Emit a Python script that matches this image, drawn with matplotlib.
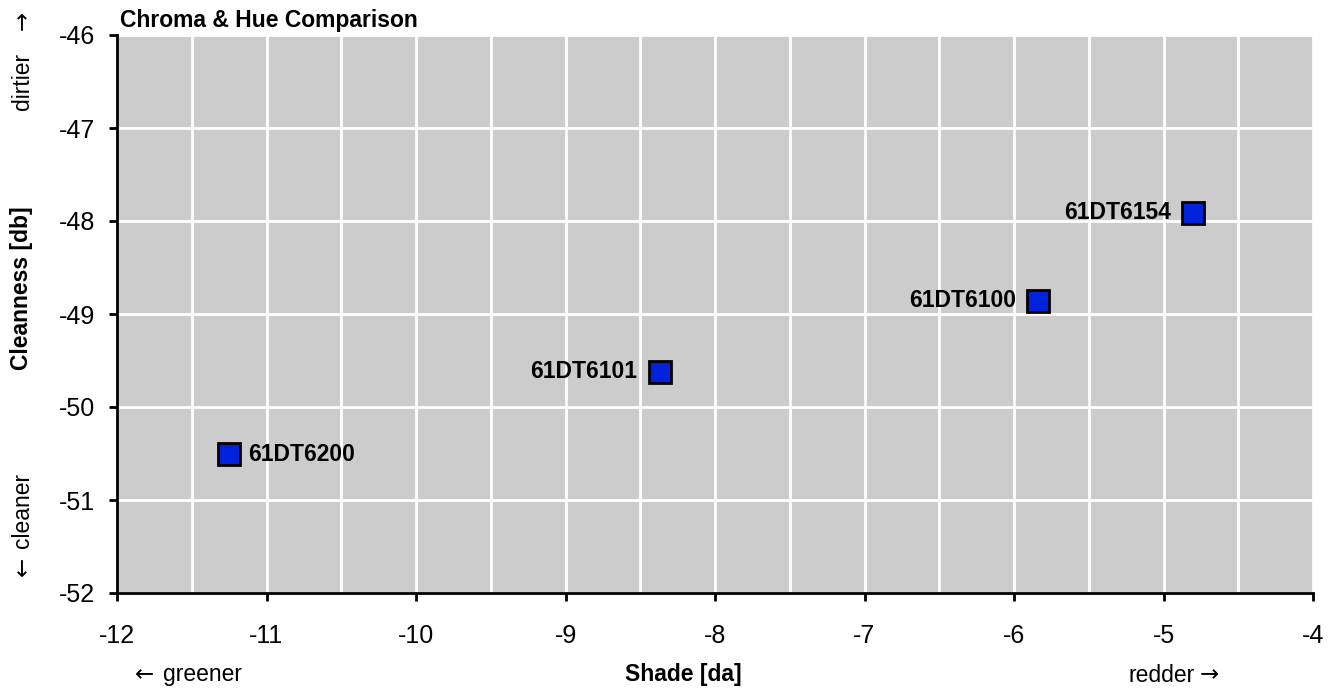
import matplotlib
matplotlib.use('Agg')
import matplotlib.pyplot as plt
from matplotlib.ticker import MultipleLocator

plt.rcParams['font.family'] = ['Liberation Sans', 'DejaVu Sans']
plt.rcParams['axes.unicode_minus'] = False

# data
names = ['61DT6200', '61DT6101', '61DT6100', '61DT6154']
shade = [-11.25, -8.37, -5.84, -4.80]
clean = [-50.51, -49.62, -48.86, -47.91]
label_side = ['right', 'left', 'left', 'left']

W, H = 1338, 689
fig = plt.figure(figsize=(W / 100, H / 100), dpi=100)
ax = fig.add_axes([117 / W, 1 - 593 / H, (1313 - 117) / W, (593 - 35) / H])
ax.set_facecolor('#cccccc')

ax.set_xlim(-12, -4)
ax.set_ylim(-52, -46)
ax.xaxis.set_major_locator(MultipleLocator(1))
ax.xaxis.set_minor_locator(MultipleLocator(0.5))
ax.yaxis.set_major_locator(MultipleLocator(1))
ax.grid(True, which='both', axis='x', color='white', lw=2)
ax.grid(True, which='major', axis='y', color='white', lw=2)
ax.tick_params(axis='x', which='minor', length=0)
ax.tick_params(which='major', direction='out', length=6, width=2, labelsize=18)
ax.tick_params(axis='x', pad=16)
ax.tick_params(axis='y', pad=10)
ax.set_axisbelow(True)

for s in ['top', 'right']:
    ax.spines[s].set_visible(False)
for s in ['left', 'bottom']:
    ax.spines[s].set_linewidth(2)

ax.plot(shade, clean, 's', ms=15.5, mfc='#0022dd', mec='black', mew=2, ls='none', zorder=3, clip_on=False)

for n, x, y, side in zip(names, shade, clean, label_side):
    if side == 'right':
        ax.annotate(n, (x, y), xytext=(14, 0), textcoords='offset points',
                    ha='left', va='center', fontsize=16.5, fontweight='bold')
    else:
        ax.annotate(n, (x, y), xytext=(-16, 0), textcoords='offset points',
                    ha='right', va='center', fontsize=16.5, fontweight='bold')

fs = 16.5
arrow_font = ['DejaVu Sans']
fig.text(120 / W, 1 - 20 / H, 'Chroma & Hue Comparison', ha='left', va='center',
         fontsize=fs, fontweight='bold')
fig.text(22 / W, 1 - 288 / H, 'Cleanness [db]', rotation=90, ha='center', va='center',
         fontsize=fs, fontweight='bold')
fig.text(683 / W, 1 - 675 / H, 'Shade [da]', ha='center', va='center',
         fontsize=fs, fontweight='bold')

# direction hints: words + arrows
fig.text(22 / W, 1 - 110 / H, 'dirtier', rotation=90, ha='center', va='bottom', fontsize=fs)
fig.text(22 / W, 1 - 30 / H, '→', rotation=90, ha='center', va='bottom', fontsize=fs, family=arrow_font)
fig.text(22 / W, 1 - 548 / H, 'cleaner', rotation=90, ha='center', va='bottom', fontsize=fs)
fig.text(22 / W, 1 - 576 / H, '←', rotation=90, ha='center', va='bottom', fontsize=fs, family=arrow_font)
fig.text(135 / W, 1 - 675 / H, '←', ha='left', va='center', fontsize=fs, family=arrow_font)
fig.text(163 / W, 1 - 675 / H, 'greener', ha='left', va='center', fontsize=fs)
fig.text(1128 / W, 1 - 675 / H, 'redder', ha='left', va='center', fontsize=fs)
fig.text(1200 / W, 1 - 675 / H, '→', ha='left', va='center', fontsize=fs, family=arrow_font)

fig.savefig('out.png', dpi=100)
